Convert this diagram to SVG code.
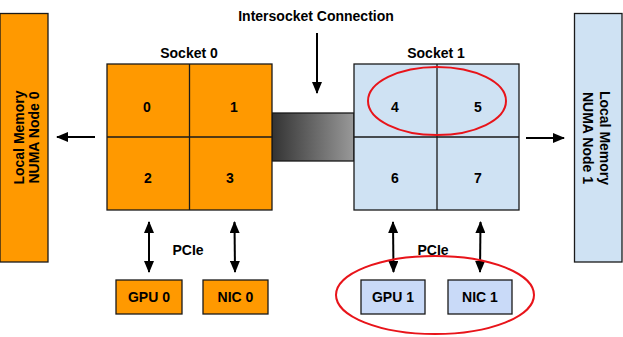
<svg xmlns="http://www.w3.org/2000/svg" width="623" height="337" viewBox="0 0 623 337">
<style>
text{font-family:"Liberation Sans",Arial,sans-serif;font-weight:bold;fill:#000;}
.t13{font-size:14px;}
.or{fill:#ff9900;stroke:#1a1a1a;stroke-width:1.3;}
.bl{fill:#cfe2f3;stroke:#1a1a1a;stroke-width:1.3;}
.bl2{fill:#c9daf8;stroke:#1a1a1a;stroke-width:1.3;}
.grid{stroke:#1a1a1a;stroke-width:1.3;fill:none;}
.arr{stroke:#000;stroke-width:2;fill:none;}
.red{fill:none;stroke:#e8141a;stroke-width:2;}
</style>
<defs>
<marker id="ah" viewBox="0 0 12 10" refX="11" refY="5" markerWidth="12" markerHeight="10" markerUnits="userSpaceOnUse" orient="auto-start-reverse">
<path d="M0,0 L12,5 L0,10 z" fill="#000"/>
</marker>
<linearGradient id="g" x1="0" y1="0" x2="1" y2="0">
<stop offset="0" stop-color="#333333"/>
<stop offset="1" stop-color="#999999"/>
</linearGradient>
</defs>
<rect width="623" height="337" fill="#fff"/>
<g id="mem0">
<rect class="or" x="0" y="13.5" width="48" height="248.5"/>
<text class="t13" transform="translate(24,137.5) rotate(-90)" text-anchor="middle"><tspan x="0" y="0">Local Memory</tspan><tspan x="0" y="15">NUMA Node 0</tspan></text>
</g>
<g id="mem1">
<rect class="bl" x="574.5" y="13.5" width="47.5" height="248.5"/>
<text class="t13" transform="translate(598,138) rotate(90)" text-anchor="middle"><tspan x="0" y="-2">Local Memory</tspan><tspan x="0" y="15">NUMA Node 1</tspan></text>
</g>
<g id="intersocket">
<rect x="272" y="113" width="82" height="48" fill="url(#g)" stroke="#1a1a1a" stroke-width="1.3"/>
<text class="t13" x="316" y="21" text-anchor="middle">Intersocket Connection</text>
</g>
<g id="socket0">
<text class="t13" x="189" y="58" text-anchor="middle">Socket 0</text>
<rect class="or" x="107" y="64" width="165" height="146"/>
<path class="grid" d="M189.5,64 V210 M107,137 H272"/>
<text class="t13" x="147" y="112" text-anchor="middle">0</text>
<text class="t13" x="234" y="112" text-anchor="middle">1</text>
<text class="t13" x="148" y="183" text-anchor="middle">2</text>
<text class="t13" x="230" y="183" text-anchor="middle">3</text>
</g>
<g id="socket1">
<text class="t13" x="436" y="58" text-anchor="middle">Socket 1</text>
<rect class="bl" x="354" y="64" width="165" height="146"/>
<path class="grid" d="M437,64 V210 M354,137 H519"/>
<text class="t13" x="395" y="112" text-anchor="middle">4</text>
<text class="t13" x="478" y="112" text-anchor="middle">5</text>
<text class="t13" x="395" y="183" text-anchor="middle">6</text>
<text class="t13" x="478" y="183" text-anchor="middle">7</text>
</g>
<g id="gpu0">
<rect class="or" x="116" y="280" width="66" height="34"/>
<text class="t13" x="149" y="302" text-anchor="middle">GPU 0</text>
</g>
<g id="nic0">
<rect class="or" x="203" y="280" width="65" height="34"/>
<text class="t13" x="235.5" y="302" text-anchor="middle">NIC 0</text>
</g>
<g id="gpu1">
<rect class="bl2" x="361" y="280" width="64" height="34"/>
<text class="t13" x="393" y="302" text-anchor="middle">GPU 1</text>
</g>
<g id="nic1">
<rect class="bl2" x="448" y="280" width="64" height="34"/>
<text class="t13" x="480" y="302" text-anchor="middle">NIC 1</text>
</g>
<g id="connectors">
<line class="arr" x1="317" y1="33" x2="317" y2="93" marker-end="url(#ah)"/>
<line class="arr" x1="95" y1="137" x2="57" y2="137" marker-end="url(#ah)"/>
<line class="arr" x1="526" y1="138" x2="564" y2="138" marker-end="url(#ah)"/>
<line class="arr" x1="149" y1="222" x2="149" y2="272" marker-start="url(#ah)" marker-end="url(#ah)"/>
<line class="arr" x1="234.5" y1="222" x2="235" y2="272" marker-start="url(#ah)" marker-end="url(#ah)"/>
<line class="arr" x1="393" y1="222" x2="393.5" y2="272" marker-start="url(#ah)" marker-end="url(#ah)"/>
<line class="arr" x1="480.5" y1="222" x2="480" y2="272" marker-start="url(#ah)" marker-end="url(#ah)"/>
<text class="t13" x="188" y="255" text-anchor="middle">PCIe</text>
<text class="t13" x="433" y="255" text-anchor="middle">PCIe</text>
</g>
<g id="highlights">
<ellipse class="red" cx="437" cy="101" rx="69" ry="34"/>
<ellipse class="red" cx="435" cy="295" rx="99" ry="39"/>
</g>
</svg>
